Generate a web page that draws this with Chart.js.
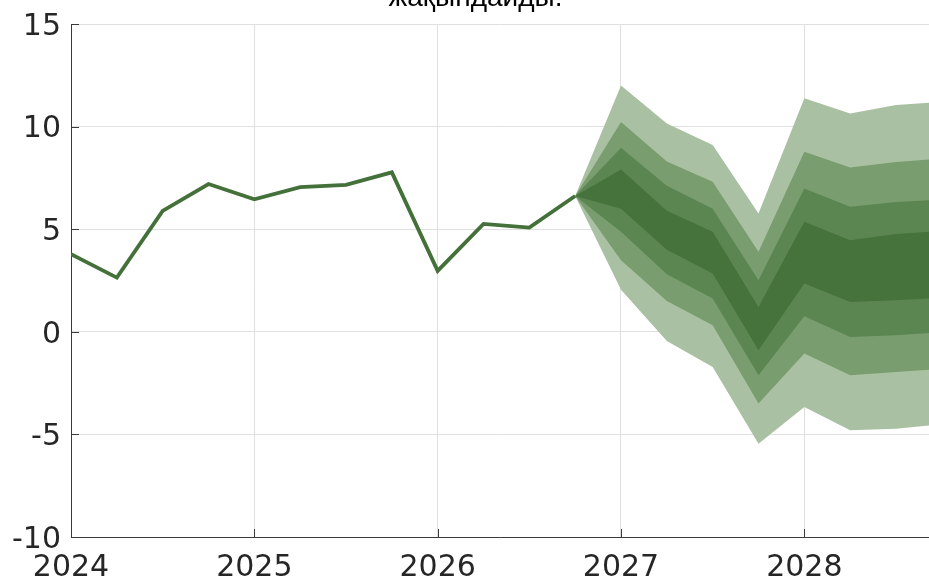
<!DOCTYPE html>
<html>
<head>
<meta charset="utf-8">
<script src="https://cdn.jsdelivr.net/npm/chart.js@4.4.1/dist/chart.umd.min.js"></script>
<style>
  html, body { margin: 0; padding: 0; background: #fff; overflow: hidden; }
  #wrap { position: relative; width: 929px; height: 580px; }
  #title {
    position: absolute; left: 0; right: 0; top: -17px; text-align: center;
    font-family: "Liberation Sans", Arial, sans-serif; font-size: 28px; line-height: 28px;
    color: #000; padding-left: 22px;
  }
  canvas { position: absolute; left: 0; top: 0; }
</style>
</head>
<body>
<div id="wrap">
  <canvas id="chart" width="929" height="580"></canvas>
  <div id="title">жақындайды.</div>
</div>
<script>
// --- деректер ---
const histDates  = [2024, 2024.25, 2024.5, 2024.75, 2025, 2025.25, 2025.5, 2025.75, 2026, 2026.25, 2026.5, 2026.75];
const histValues = [3.78, 2.64, 5.89, 7.2, 6.46, 7.05, 7.16, 7.77, 2.97, 5.26, 5.08, 6.62];

const fanDates = [2026.75, 2027, 2027.25, 2027.5, 2027.75, 2028, 2028.25, 2028.5, 2028.75];
const outerTop = [6.62, 12.0, 10.15, 9.1, 5.77, 11.38, 10.64, 11.05, 11.2];
const band2Top = [6.62, 10.23, 8.3, 7.31, 3.9, 8.77, 8.01, 8.28, 8.45];
const band3Top = [6.62, 8.97, 7.12, 6.0, 2.51, 6.98, 6.09, 6.33, 6.45];
const innerTop = [6.62, 7.91, 5.9, 4.87, 1.21, 5.36, 4.46, 4.76, 4.92];
const innerBot = [6.62, 6.0, 4.0, 2.84, -0.9, 2.35, 1.45, 1.54, 1.65];
const band3Bot = [6.62, 4.87, 2.8, 1.62, -2.12, 0.76, -0.25, -0.17, -0.01];
const band2Bot = [6.62, 3.49, 1.5, 0.32, -3.5, -1.06, -2.12, -1.96, -1.8];
const outerBot = [6.62, 2.05, -0.45, -1.72, -5.45, -3.67, -4.8, -4.72, -4.5];

const yearTicks = [2024, 2025, 2026, 2027, 2028];
const yTicks = [-10, -5, 0, 5, 10, 15];

const pts = (xs, ys) => xs.map((x, i) => ({ x: x, y: ys[i] }));

const bandDs = (vals, color, fill) => ({
  data: pts(fanDates, vals),
  borderWidth: 0,
  pointRadius: 0,
  backgroundColor: color,
  fill: fill,
  tension: 0
});

// ішке қараған кішкене белгілер (MATLAB стилі)
const innerTicks = {
  id: 'innerTicks',
  afterDraw(chart) {
    const { ctx, chartArea, scales } = chart;
    ctx.save();
    ctx.strokeStyle = '#3a3a3a';
    ctx.lineWidth = 1;
    yTicks.forEach(v => {
      const y = Math.round(scales.y.getPixelForValue(v)) + 0.5;
      ctx.beginPath(); ctx.moveTo(chartArea.left, y); ctx.lineTo(chartArea.left + 8, y); ctx.stroke();
    });
    yearTicks.forEach(v => {
      const x = Math.round(scales.x.getPixelForValue(v)) + 0.5;
      ctx.beginPath(); ctx.moveTo(x, chartArea.bottom); ctx.lineTo(x, chartArea.bottom - 8); ctx.stroke();
    });
    ctx.restore();
  }
};

new Chart(document.getElementById('chart'), {
  type: 'line',
  data: {
    datasets: [
      {
        data: pts(histDates, histValues),
        borderColor: '#44703a',
        borderWidth: 3.8,
        pointRadius: 0,
        fill: false,
        tension: 0
      },
      bandDs(innerTop, '#46733b', '+1'),
      bandDs(innerBot, 'transparent', false),
      bandDs(band3Top, '#5b8651', '+1'),
      bandDs(band3Bot, 'transparent', false),
      bandDs(band2Top, '#7a9d70', '+1'),
      bandDs(band2Bot, 'transparent', false),
      bandDs(outerTop, '#a9c1a2', '+1'),
      bandDs(outerBot, 'transparent', false)
    ]
  },
  options: {
    responsive: false,
    animation: false,
    layout: { padding: { top: 24, right: 0, left: 0, bottom: 0 } },
    plugins: { legend: { display: false }, tooltip: { enabled: false } },
    scales: {
      x: {
        type: 'linear',
        min: 2024,
        max: 2028.68,
        afterBuildTicks: s => { s.ticks = yearTicks.map(v => ({ value: v })); },
        afterFit: s => { s.height = 43; s.paddingLeft = 0; s.paddingRight = 0; },
        grid: { color: '#e0e0e0', drawTicks: false },
        border: { color: '#3a3a3a', width: 1 },
        ticks: {
          padding: 13,
          color: '#262626',
          font: { family: 'DejaVu Sans', size: 30 },
          callback: v => String(v),
          maxRotation: 0
        }
      },
      y: {
        min: -10,
        max: 15,
        afterBuildTicks: s => { s.ticks = yTicks.map(v => ({ value: v })); },
        afterFit: s => { s.width = 71; s.paddingTop = 0; s.paddingBottom = 0; },
        grid: { color: '#e0e0e0', drawTicks: false },
        border: { color: '#3a3a3a', width: 1 },
        ticks: {
          padding: 10,
          labelOffset: 3,
          color: '#262626',
          font: { family: 'DejaVu Sans', size: 30 }
        }
      }
    }
  },
  plugins: [innerTicks]
});
</script>
</body>
</html>
